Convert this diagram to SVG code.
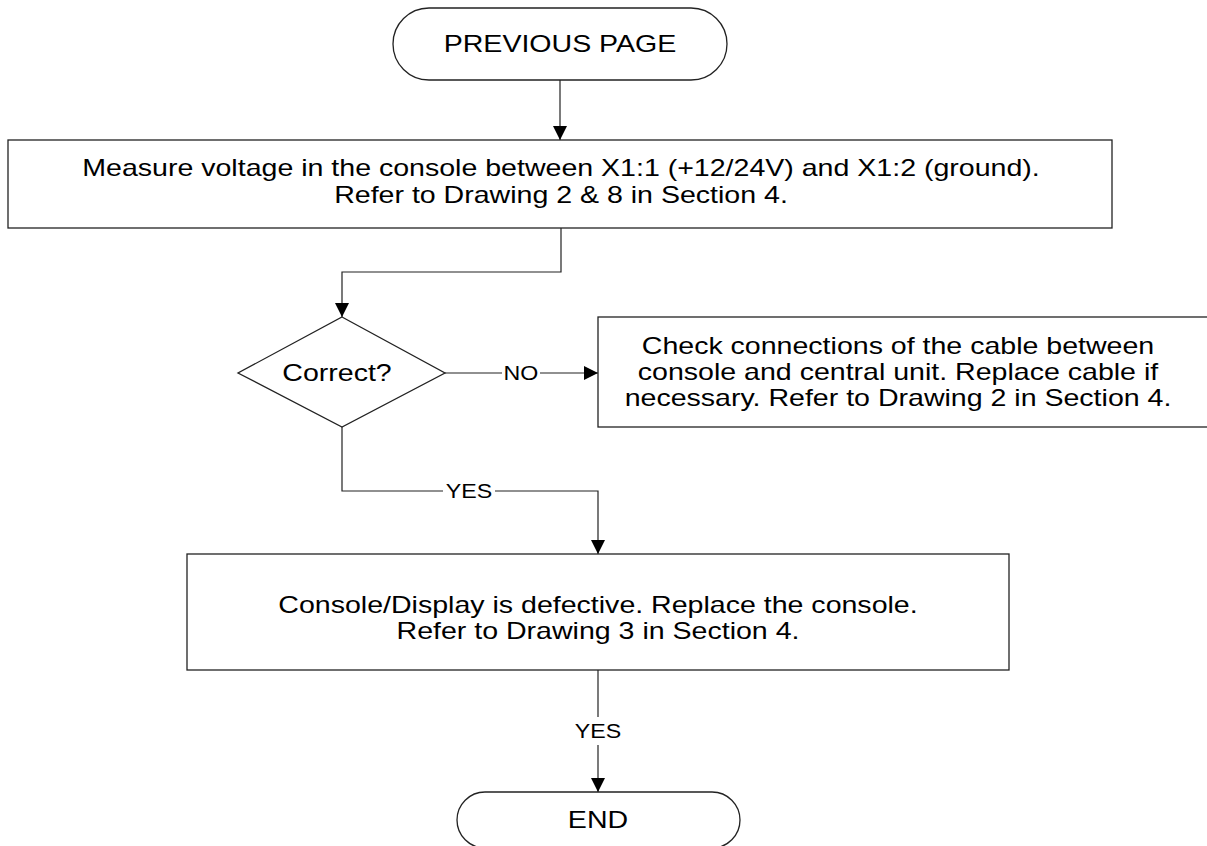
<svg xmlns="http://www.w3.org/2000/svg" width="1207" height="846" viewBox="0 0 1207 846">
<defs>
<marker id="arr" viewBox="0 0 10 10" refX="10" refY="5" markerWidth="14" markerHeight="14" markerUnits="userSpaceOnUse" orient="auto">
<path d="M0,0 L10,5 L0,10 z" fill="#000"/>
</marker>
<style>
.shape{fill:#fff;stroke:#222;stroke-width:1.3}
.t{font-family:"Liberation Sans",Arial,sans-serif;font-size:24px;fill:#000;text-anchor:middle}
.lbl{font-family:"Liberation Sans",Arial,sans-serif;font-size:19.5px;fill:#000;text-anchor:middle}
.c{fill:none;stroke:#222;stroke-width:1.2}
.bg{fill:#fff}
</style>
</defs>
<rect width="1207" height="846" fill="#fff"/>
<g id="connectors">
<path class="c" d="M560,80 V140" marker-end="url(#arr)"/>
<path class="c" d="M561,228 V272 H342 V317" marker-end="url(#arr)"/>
<path class="c" d="M445,373 H598" marker-end="url(#arr)"/>
<rect class="bg" x="502" y="360" width="38" height="24"/>
<g transform="translate(521,0) scale(1.19,1)"><text class="lbl" x="0" y="380">NO</text></g>
<path class="c" d="M342,427 V491 H598 V554" marker-end="url(#arr)"/>
<rect class="bg" x="443" y="478" width="52" height="24"/>
<g transform="translate(469,0) scale(1.19,1)"><text class="lbl" x="0" y="498">YES</text></g>
<path class="c" d="M598,670 V792" marker-end="url(#arr)"/>
<rect class="bg" x="572" y="717" width="52" height="28"/>
<g transform="translate(598,0) scale(1.19,1)"><text class="lbl" x="0" y="738">YES</text></g>
</g>
<g id="prev">
<rect class="shape" x="393" y="8" width="334" height="72" rx="36" ry="36"/>
<g transform="translate(560,0) scale(1.19,1)"><text class="t" x="0" y="52">PREVIOUS PAGE</text></g>
</g>
<g id="measure">
<rect class="shape" x="8" y="140" width="1104" height="88"/>
<g transform="translate(561,0) scale(1.19,1)">
<text class="t" x="0" y="176">Measure voltage in the console between X1:1 (+12/24V) and X1:2 (ground).</text>
<text class="t" x="0" y="203">Refer to Drawing 2 &amp; 8 in Section 4.</text>
</g>
</g>
<g id="correct">
<polygon class="shape" points="342,317 445,373 342,427 238,373"/>
<g transform="translate(337,0) scale(1.19,1)"><text class="t" x="0" y="381">Correct?</text></g>
</g>
<g id="check">
<rect class="shape" x="598" y="317" width="620" height="110"/>
<g transform="translate(898,0) scale(1.19,1)">
<text class="t" x="0" y="354">Check connections of the cable between</text>
<text class="t" x="0" y="380">console and central unit. Replace cable if</text>
<text class="t" x="0" y="406">necessary. Refer to Drawing 2 in Section 4.</text>
</g>
</g>
<g id="defective">
<rect class="shape" x="187" y="554" width="822" height="116"/>
<g transform="translate(598,0) scale(1.19,1)">
<text class="t" x="0" y="613">Console/Display is defective. Replace the console.</text>
<text class="t" x="0" y="639">Refer to Drawing 3 in Section 4.</text>
</g>
</g>
<g id="end">
<rect class="shape" x="457" y="792" width="283" height="56" rx="28" ry="28"/>
<g transform="translate(598,0) scale(1.19,1)"><text class="t" x="0" y="828">END</text></g>
</g>
</svg>
